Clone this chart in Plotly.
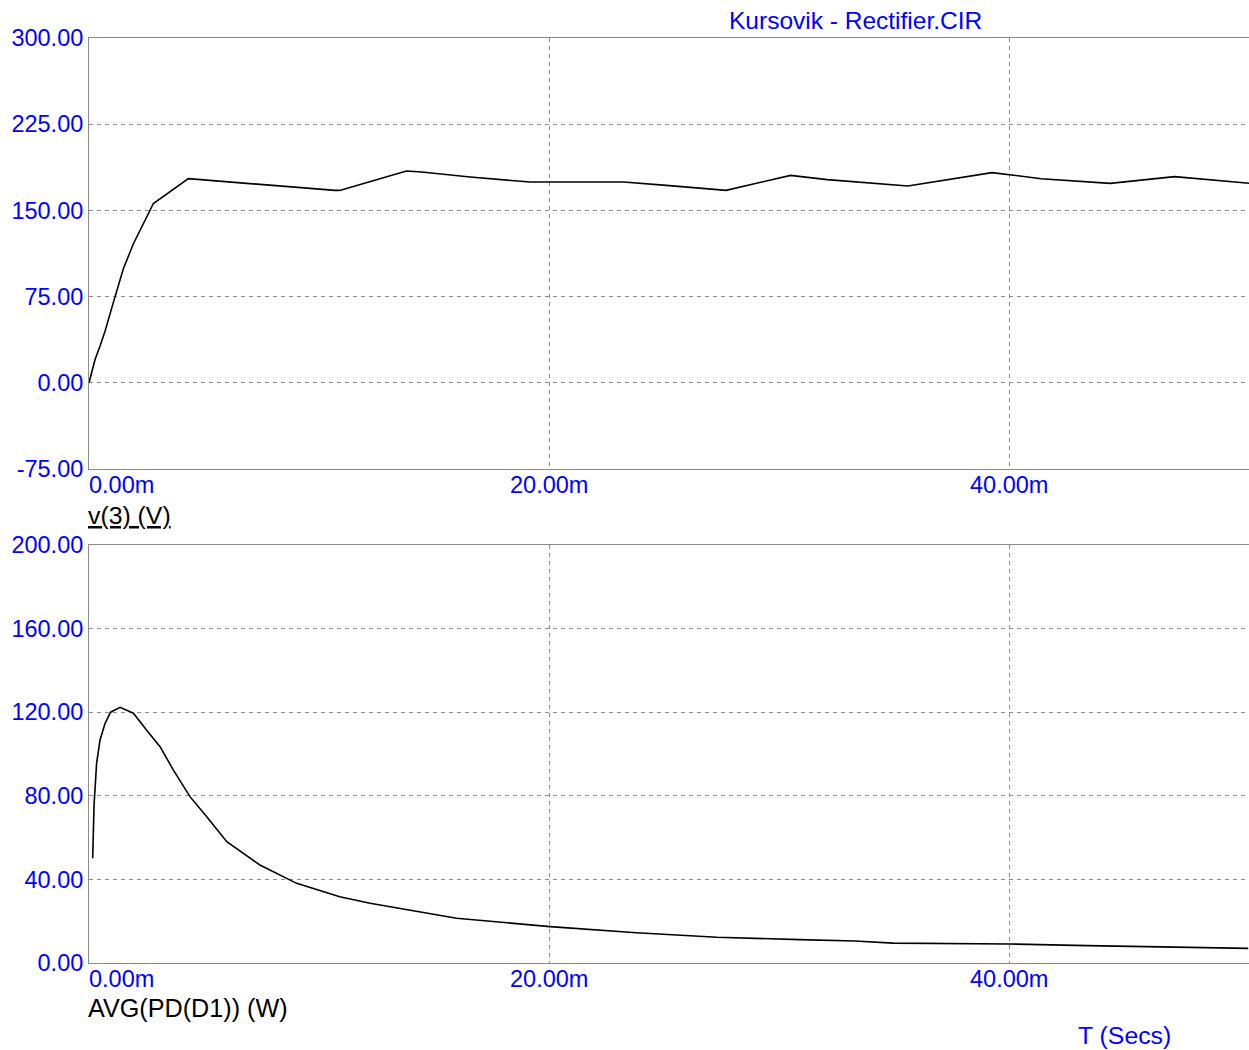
import plotly.graph_objects as go

# ---- data (time in ms) ----
t_v3 = [0, 0.26, 0.48, 0.7, 1.06, 1.49, 1.93, 2.8, 4.32, 5.55, 7.29, 8.88, 10.7, 10.9,
        13.8, 14.46, 16.57, 19.17, 23.25, 25.1, 27.7, 30.5, 32.1, 35.6, 39.26, 41.4,
        44.4, 47.2, 50.5]
v3 = [0, 20, 32, 45, 70, 99, 121, 156, 177.6, 175.6, 172.7, 169.8, 167.4, 167.4,
      184.3, 183.4, 179.0, 174.7, 174.7, 171.8, 167.4, 180.5, 176.8, 171.2, 182.9, 177.6,
      173.5, 179.4, 173.5]

t_pd = [0.16, 0.22, 0.33, 0.48, 0.7, 0.94, 1.35, 1.93, 2.5, 3.09, 3.67, 4.39, 5.12,
        5.99, 7.43, 9.03, 10.9, 12.22, 15.98, 20.04, 23.8, 27.3, 30.9, 33.3, 34.96,
        40.04, 43.4, 47.9, 50.4]
pd_avg = [50.1, 75.6, 95.5, 106.7, 114.7, 120.0, 122.3, 119.5, 111.5, 103.5, 92.3, 79.6,
          70.0, 58.0, 46.9, 38.1, 31.7, 28.6, 21.4, 17.4, 14.5, 12.3, 11.2, 10.5, 9.5,
          9.1, 8.3, 7.3, 7.0]

x_ticks = [0, 20, 40]
x_tick_text = ["0.00m", "20.00m", "40.00m"]
y1_ticks = [-75, 0, 75, 150, 225, 300]
y2_ticks = [0, 40, 80, 120, 160, 200]

W, H = 1249, 1050
L = 89
BLUE = "#0000ff"
GREY = "#8c8c8c"
FONT = "Liberation Sans, Arial, sans-serif"
FS = 23.5
FS_LBL = 24.8

def py(p):
    return (H - p) / H

def px(p):
    return (p - L) / (W - L)

top_dom = [py(469), py(38)]
bot_dom = [py(963), py(545)]
x_max = (W - L) / 23.0

fig = go.Figure()
fig.add_trace(go.Scatter(x=t_v3, y=v3, mode="lines", line=dict(color="black", width=1.6),
                         xaxis="x", yaxis="y", showlegend=False))
fig.add_trace(go.Scatter(x=t_pd, y=pd_avg, mode="lines", line=dict(color="black", width=1.6),
                         xaxis="x2", yaxis="y2", showlegend=False))

xcommon = dict(range=[0, x_max], tickvals=x_ticks, showticklabels=False, ticks="",
               showgrid=True, gridcolor=GREY, griddash="4px,4px", gridwidth=1,
               showline=True, linecolor=GREY, linewidth=1, mirror=True, zeroline=False,
               domain=[0, 1], automargin=False)
ycommon = dict(showgrid=True, gridcolor=GREY, griddash="4px,4px", gridwidth=1,
               showline=True, linecolor=GREY, linewidth=1, mirror=False, zeroline=False,
               ticks="", tickfont=dict(family=FONT, size=FS, color=BLUE), automargin=False)

fig.update_layout(
    width=W, height=H,
    margin=dict(l=L, r=0, t=0, b=0, autoexpand=False),
    paper_bgcolor="white", plot_bgcolor="white",
    xaxis=dict(**xcommon, anchor="y"),
    xaxis2=dict(**xcommon, anchor="y2"),
    yaxis=dict(**ycommon, domain=top_dom, range=[-75, 300], tickvals=y1_ticks,
               ticktext=["%.2f" % v for v in y1_ticks], anchor="x"),
    yaxis2=dict(**ycommon, domain=bot_dom, range=[0, 200], tickvals=y2_ticks,
                ticktext=["%.2f" % v for v in y2_ticks], anchor="x2"),
)

ann = []
# x tick labels
for xref, yax in (("x", 469), ("x2", 963)):
    for v, txt in zip(x_ticks, x_tick_text):
        ann.append(dict(x=v, y=py(yax), xref=xref, yref="paper", text=txt,
                        showarrow=False, xanchor="left" if v == 0 else "center",
                        yanchor="middle", yshift=-16, xshift=-2 if v == 0 else 0,
                        font=dict(family=FONT, size=FS, color=BLUE)))

ann.append(dict(x=px(855), y=py(20), xref="paper", yref="paper",
                text="Kursovik - Rectifier.CIR", showarrow=False,
                xanchor="center", yanchor="middle", borderpad=0,
                font=dict(family=FONT, size=24.5, color=BLUE)))
ann.append(dict(x=px(86), y=py(515), xref="paper", yref="paper",
                text="<u>v(3) (V)</u>", showarrow=False,
                xanchor="left", yanchor="middle",
                font=dict(family=FONT, size=FS_LBL, color="black")))
ann.append(dict(x=px(86), y=py(1008), xref="paper", yref="paper",
                text="AVG(PD(D1)) (W)", showarrow=False,
                xanchor="left", yanchor="middle",
                font=dict(family=FONT, size=25.2, color="black")))
ann.append(dict(x=px(1124), y=0, xref="paper", yref="paper",
                text="T (Secs)", showarrow=False,
                xanchor="center", yanchor="bottom", borderpad=0,
                font=dict(family=FONT, size=FS_LBL, color=BLUE)))
fig.update_layout(annotations=ann)

fig.write_html("out.html", config={"displayModeBar": False},
               post_script="document.body.style.margin='0';document.body.style.overflow='hidden';")
